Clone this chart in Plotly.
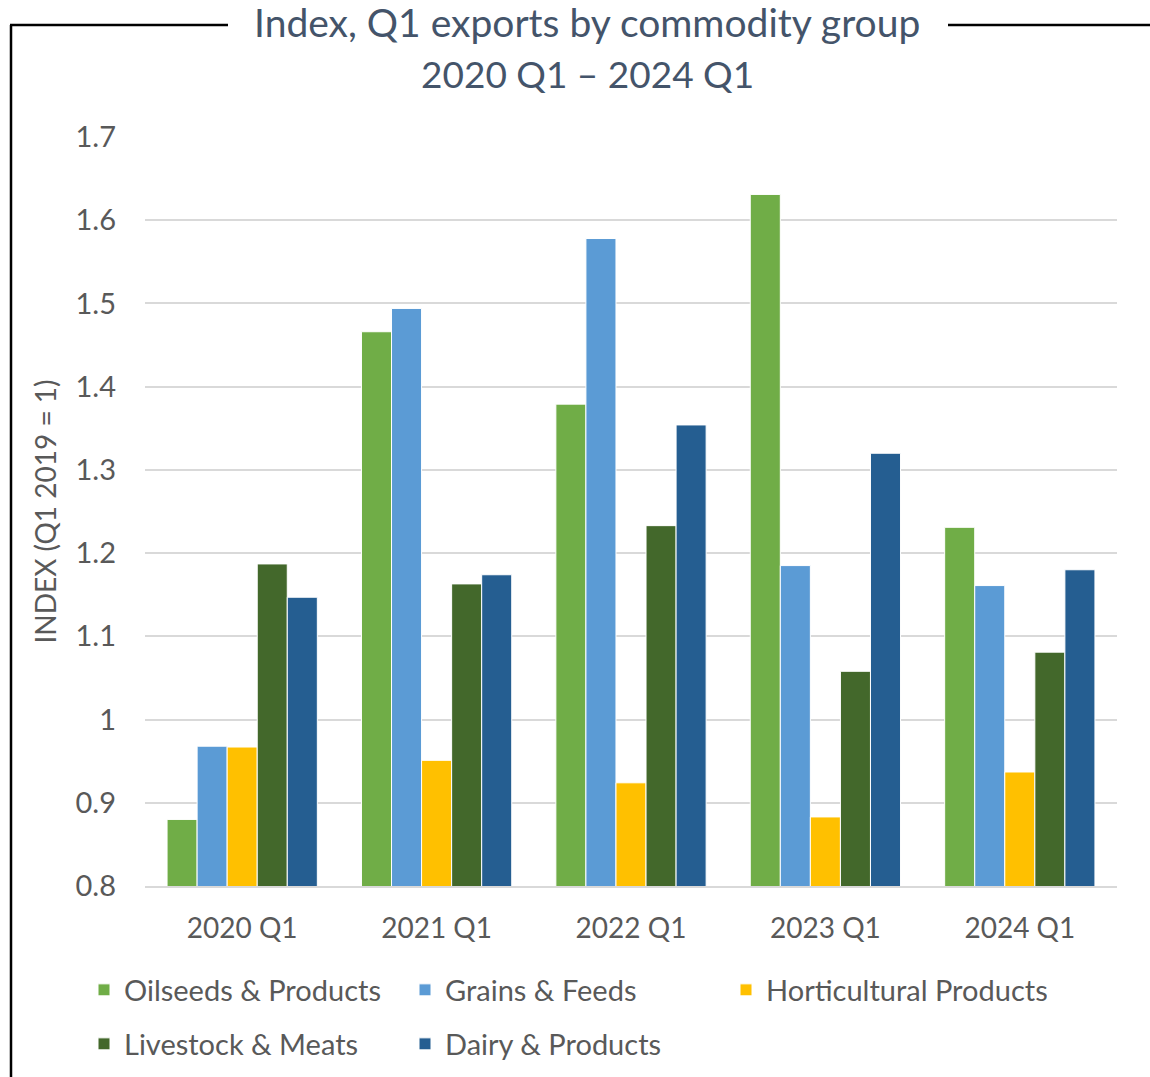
import plotly.graph_objects as go

categories = ["2020 Q1", "2021 Q1", "2022 Q1", "2023 Q1", "2024 Q1"]
series_names = ["Oilseeds & Products", "Grains & Feeds", "Horticultural Products",
                "Livestock & Meats", "Dairy & Products"]
oilseeds = [0.880, 1.466, 1.379, 1.631, 1.231]
grains = [0.968, 1.494, 1.578, 1.185, 1.161]
horticultural = [0.967, 0.951, 0.924, 0.883, 0.937]
livestock = [1.187, 1.163, 1.233, 1.058, 1.081]
dairy = [1.147, 1.174, 1.354, 1.320, 1.180]
colors = ["#70AD47", "#5B9BD5", "#FFC000", "#43682B", "#255E91"]
legend_rows = ["legend", "legend", "legend", "legend2", "legend2"]
y_ticks = [0.8, 0.9, 1.0, 1.1, 1.2, 1.3, 1.4, 1.5, 1.6, 1.7]
y_tick_labels = ["0.8", "0.9", "1", "1.1", "1.2", "1.3", "1.4", "1.5", "1.6", "1.7"]
title_lines = ["Index, Q1 exports by commodity group", "2020 Q1 \u2013 2024 Q1"]

FONT = "Lato"
TXT = "#595959"

fig = go.Figure()
for name, vals, col, lg in zip(series_names, [oilseeds, grains, horticultural, livestock, dairy],
                               colors, legend_rows):
    fig.add_trace(go.Bar(
        x=categories, y=vals, name=name, marker_color=col,
        marker_line=dict(color="white", width=1), base=0, legend=lg,
    ))

W, H = 1150, 1077
L, R, T, B = 145, 33, 137, 191
pw, ph = W - L - R, H - T - B

def px_x(x):
    return (x - L) / pw

def px_y(y):
    return (H - B - y) / ph

frame = dict(color="black", width=2.5)
shapes = [
    dict(type="line", xref="paper", yref="paper", x0=px_x(11), x1=px_x(11),
         y0=px_y(25), y1=px_y(1100), line=frame),
    dict(type="line", xref="paper", yref="paper", x0=px_x(10), x1=px_x(228),
         y0=px_y(25), y1=px_y(25), line=frame),
    dict(type="line", xref="paper", yref="paper", x0=px_x(948), x1=px_x(1160),
         y0=px_y(25), y1=px_y(25), line=frame),
]

annotations = [
    dict(text=title_lines[0], xref="paper", yref="paper", x=px_x(587), y=px_y(22),
         xanchor="center", yanchor="middle", showarrow=False,
         font=dict(family=FONT, size=39, color="#44546A")),
    dict(text=title_lines[1], xref="paper", yref="paper", x=px_x(587), y=px_y(73),
         xanchor="center", yanchor="middle", showarrow=False,
         font=dict(family=FONT, size=37, color="#44546A")),
]

legend_common = dict(orientation="h", xanchor="left", yanchor="middle",
                     font=dict(size=29, color=TXT), entrywidth=276, entrywidthmode="pixels",
                     traceorder="normal", itemclick=False, itemdoubleclick=False,
                     bgcolor="rgba(0,0,0,0)")

fig.update_layout(
    width=W, height=H,
    margin=dict(l=L, r=R, t=T, b=B, autoexpand=False),
    paper_bgcolor="white", plot_bgcolor="white",
    barmode="group", bargap=0.227, bargroupgap=0,
    font=dict(family=FONT, color=TXT),
    xaxis=dict(showgrid=False, showline=True, linecolor="#D9D9D9", linewidth=1.5,
               ticks="", tickfont=dict(size=28, color=TXT), ticklabelstandoff=17),
    yaxis=dict(range=[0.8, 1.7], tickvals=y_ticks, ticktext=y_tick_labels,
               showgrid=True, gridcolor="#D9D9D9", gridwidth=1.5, zeroline=False,
               showline=False, ticks="", tickfont=dict(size=29, color=TXT),
               ticklabelstandoff=28,
               title=dict(text="INDEX (Q1 2019 = 1)", font=dict(size=28, color=TXT),
                          standoff=10)),
    legend=dict(x=px_x(84), y=px_y(990), **legend_common),
    legend2=dict(x=px_x(84), y=px_y(1044), **legend_common),
    shapes=shapes,
    annotations=annotations,
)

fig.write_html("out.html", config={"displayModeBar": False},
               post_script="document.body.style.margin='0';document.body.style.padding='0';")
